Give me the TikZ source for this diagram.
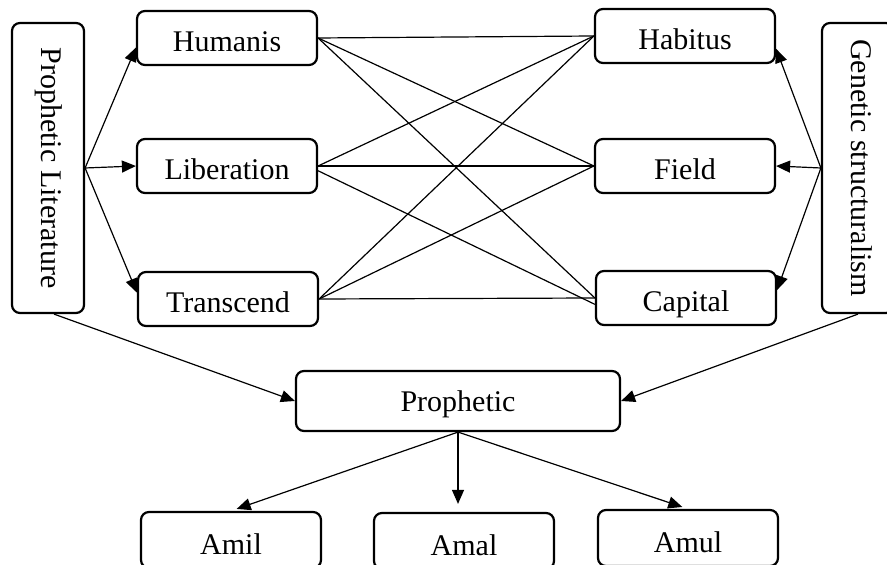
\documentclass[tikz,border=0pt]{standalone}
\usepackage{fontspec}
\setmainfont{Liberation Serif}
\usetikzlibrary{positioning,arrows.meta}

\tikzset{
  box/.style={draw,rounded corners=4pt,line width=1.1pt,minimum width=90pt,
    minimum height=27pt,text height=14pt,text depth=0pt,
    font=\fontsize{15}{18}\selectfont},
  tallbox/.style={box,rotate=-90,minimum width=145pt,minimum height=36pt,
    text height=10pt,text depth=3pt},
  link/.style={line width=0.6pt},
  arr/.style={link,-{Triangle[length=7pt,width=6pt]}}
}

\begin{document}
\begin{tikzpicture}[x=0.5pt,y=-0.5pt]
\useasboundingbox (0,0) rectangle (887,565);

% Side boxes (turned, so north faces right)
\node[tallbox] (lit) at (48,168) {Prophetic Literature};
\node[tallbox] (gen) at (858,168) {Genetic structuralism};

% Left column
\node[box] (hum) at (227,38) {Humanis};
\node[box] (lib) at (227,166) {Liberation};
\node[box] (tra) at (228,299) {Transcend};

% Right column
\node[box] (hab) at (685,36) {Habitus};
\node[box] (fie) at (685,166) {Field};
\node[box] (cap) at (686,298) {Capital};

% Centre and bottom row
\node[box,minimum width=162pt,minimum height=30pt,text height=11pt] (pro) at (458,401) {Prophetic};
\node[box,minimum height=28pt] (amil) at (231,540) {Amil};
\node[box,minimum height=28pt] (amal) at (464,541) {Amal};
\node[box,minimum height=28pt] (amul) at (688,538) {Amul};

% Arrows from the side boxes
\draw[arr] (lit.north) -- (hum.186);
\draw[arr] (lit.north) -- (lib.west);
\draw[arr] (lit.north) -- (tra.176);
\draw[arr] (gen.south) -- (hab.352);
\draw[arr] (gen.south) -- (fie.east);
\draw[arr] (gen.south) -- (cap.5);

% Crossing links
\draw[link] (hum.east) -- (hab.west);
\draw[link] (hum.east) -- (fie.west);
\draw[link] (hum.east) -- (cap.west);
\draw[link] (lib.east) -- (hab.west);
\draw[link] (lib.east) -- (fie.west);
\draw[link] (lib.-3) -- (cap.184);
\draw[link] (tra.east) -- (hab.west);
\draw[link] (tra.east) -- (fie.west);
\draw[link] (tra.east) -- (cap.west);

% Into and out of Prophetic
\draw[arr] ([xshift=3pt]lit.east) -- (pro.west);
\draw[arr] (gen.east) -- (pro.east);
\draw[arr,shorten >=3pt] (pro.south) -- (amil.north);
\draw[arr,shorten >=4pt] (pro.south) -- (pro.south |- amal.north);
\draw[arr,shorten >=3pt] (pro.south) -- (amul.north);
\end{tikzpicture}
\end{document}
